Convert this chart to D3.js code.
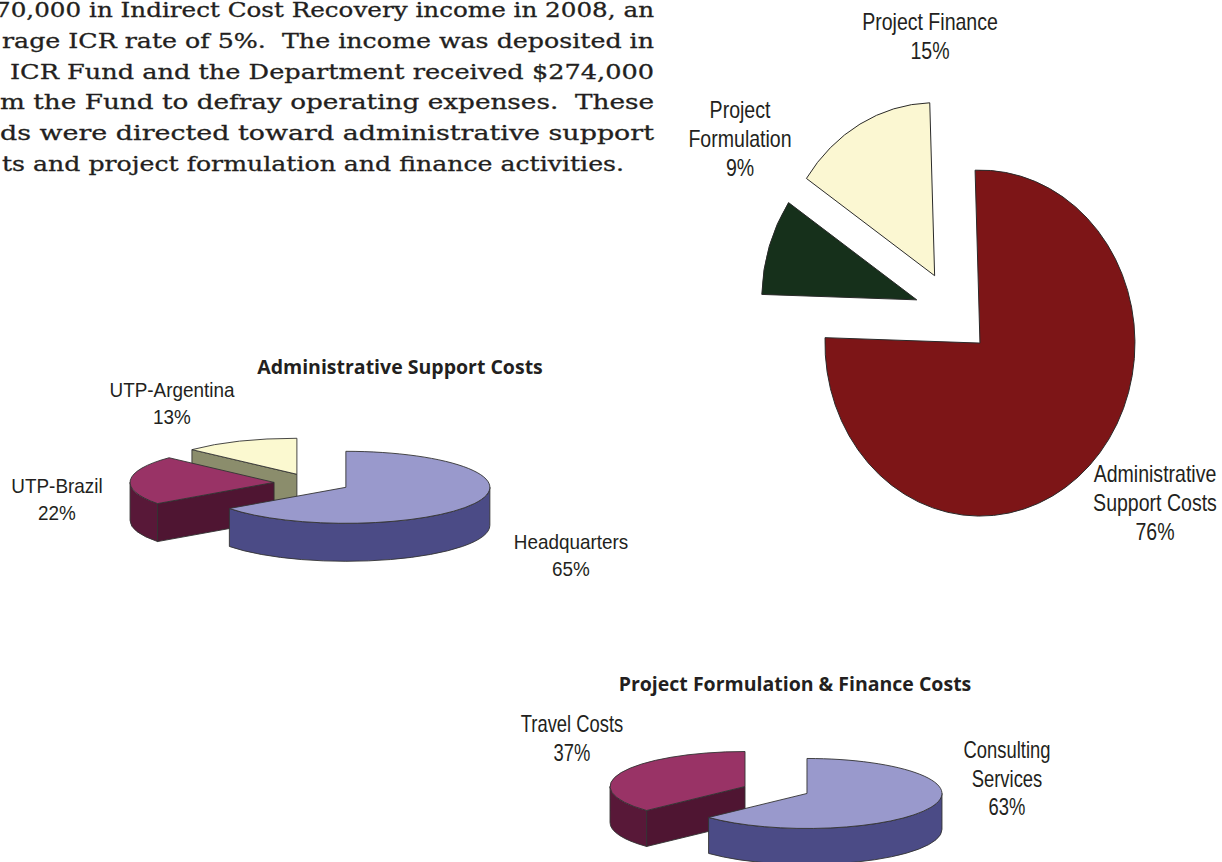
<!DOCTYPE html>
<html>
<head>
<meta charset="utf-8">
<script src="https://cdn.jsdelivr.net/npm/d3@7"></script>
<style>
  body { margin: 0; background: #fff; }
  svg { display: block; }
</style>
</head>
<body>
<svg id="chart"></svg>
<script>
const width = 1222;
const height = 862;

// ---- data ----
const paragraphLines = [
  "70,000 in Indirect Cost Recovery income in 2008, an",
  "rage ICR rate of 5%.  The income was deposited in",
  "ICR Fund and the Department received $274,000",
  "m the Fund to defray operating expenses.  These",
  "ds were directed toward administrative support",
  "ts and project formulation and finance activities."
];

const mainCategories = ["Administrative Support Costs", "Project Formulation", "Project Finance"];
const mainValues = [76, 9, 15];

const adminTitle = "Administrative Support Costs";
const adminCategories = ["Headquarters", "UTP-Brazil", "UTP-Argentina"];
const adminValues = [65, 22, 13];

const pfTitle = "Project Formulation & Finance Costs";
const pfCategories = ["Consulting Services", "Travel Costs"];
const pfValues = [63, 37];

// ---- layout ----
const svg = d3.select("#chart")
  .attr("width", width)
  .attr("height", height);

svg.append("rect").attr("width", width).attr("height", height).attr("fill", "#fff");

// paragraph (cropped on the left, justified on the right)
const paraStart = [-5, 2, 10, 0, 0, 2];
const paraEnd = [654, 654, 654, 654, 654, 624];
svg.append("g")
  .selectAll("text")
  .data(paragraphLines)
  .join("text")
  .attr("x", (d, i) => paraStart[i])
  .attr("y", (d, i) => 17 + i * 30.8)
  .attr("textLength", (d, i) => paraEnd[i] - paraStart[i])
  .attr("lengthAdjust", "spacingAndGlyphs")
  .style("white-space", "pre")
  .attr("font-family", "'DejaVu Serif', serif")
  .attr("font-size", 20)
  .attr("fill", "#231f20")
  .attr("stroke", "#231f20")
  .attr("stroke-width", 0.3)
  .text(d => d);

// multi-line label helper (text is a little condensed, like the source)
function addLabel(x, y, lines, size, sx, lh) {
  const g = svg.append("g");
  lines.forEach((t, k) => {
    g.append("text")
      .attr("transform", `translate(${x},${y + k * lh}) scale(${sx},1)`)
      .attr("text-anchor", "middle")
      .attr("font-family", "'Liberation Sans', Arial, sans-serif")
      .attr("font-size", size)
      .attr("fill", "#231f20")
      .text(t);
  });
}

const pct = v => `${v}%`;

// ---- main exploded pie ----
const mainColors = ["#7d1517", "#16301b", "#fbf7d2"];
const mainR = 173;
const mainSx = 155 / 173;
const mainExplode = 0.246;
const mainStart = -Math.PI / 100;
const mainArcs = d3.pie().sort(null).value(d => d)
  .startAngle(mainStart).endAngle(mainStart + 2 * Math.PI)(mainValues);
const mainArc = d3.arc().innerRadius(0).outerRadius(mainR);

svg.append("g")
  .attr("transform", `translate(953,313) scale(${mainSx},1)`)
  .selectAll("path")
  .data(mainArcs)
  .join("path")
  .attr("transform", d => {
    const m = (d.startAngle + d.endAngle) / 2;
    return `translate(${Math.sin(m) * mainR * mainExplode},${-Math.cos(m) * mainR * mainExplode})`;
  })
  .attr("d", mainArc)
  .attr("fill", (d, i) => mainColors[i])
  .attr("stroke", "#2a2a2a")
  .attr("stroke-width", 1)
  .attr("vector-effect", "non-scaling-stroke");

const mainLabelPos = [
  { x: 1155, y: 482, lines: ["Administrative", "Support Costs"] },
  { x: 740, y: 118, lines: ["Project", "Formulation"] },
  { x: 930, y: 30, lines: ["Project Finance"] }
];
mainLabelPos.forEach((p, i) => addLabel(p.x, p.y, p.lines.concat(pct(mainValues[i])), 23, 0.85, 29));

// ---- 3D exploded pie helper ----
function pie3d(cx, cy, rx, ry, depth, explode, values, tops, sides, faces) {
  const arcs = d3.pie().sort(null).value(d => d)(values);
  const g = svg.append("g")
    .attr("stroke", "#333")
    .attr("stroke-width", 0.9)
    .attr("stroke-linejoin", "round");

  const slices = arcs.map((d, i) => {
    const m = (d.startAngle + d.endAngle) / 2;
    return {
      d, i,
      ox: cx + explode * rx * Math.sin(m),
      oy: cy - explode * ry * Math.cos(m),
      key: -Math.cos(m)
    };
  }).sort((a, b) => a.key - b.key);

  slices.forEach(s => {
    const { d, i, ox, oy } = s;
    const pt = (a, dz) => [ox + rx * Math.sin(a), oy - ry * Math.cos(a) + dz];
    const a0 = d.startAngle, a1 = d.endAngle;

    // cut faces that turn toward the viewer
    [[a0, Math.sin(a0) < -1e-6], [a1, Math.sin(a1) > 1e-6]].forEach(([a, vis]) => {
      if (!vis) return;
      const o = pt(a, 0), ob = pt(a, depth);
      g.append("path")
        .attr("d", `M${ox},${oy}L${o[0]},${o[1]}L${ob[0]},${ob[1]}L${ox},${oy + depth}Z`)
        .attr("fill", faces[i]);
    });

    // outer wall, front half only
    const s0 = Math.max(a0, Math.PI / 2);
    const s1 = Math.min(a1, 3 * Math.PI / 2);
    if (s1 > s0) {
      const t0 = pt(s0, 0), t1 = pt(s1, 0), b1 = pt(s1, depth), b0 = pt(s0, depth);
      g.append("path")
        .attr("d", `M${t0[0]},${t0[1]}A${rx},${ry} 0 0 1 ${t1[0]},${t1[1]}` +
                   `L${b1[0]},${b1[1]}A${rx},${ry} 0 0 0 ${b0[0]},${b0[1]}Z`)
        .attr("fill", sides[i]);
    }

    // top face
    const p0 = pt(a0, 0), p1 = pt(a1, 0);
    const large = (a1 - a0) > Math.PI ? 1 : 0;
    g.append("path")
      .attr("d", `M${ox},${oy}L${p0[0]},${p0[1]}A${rx},${ry} 0 ${large} 1 ${p1[0]},${p1[1]}Z`)
      .attr("fill", tops[i]);
  });
}

function addTitle(x, y, t) {
  svg.append("text")
    .attr("x", x).attr("y", y)
    .attr("text-anchor", "middle")
    .attr("font-family", "'Open Sans', sans-serif")
    .attr("font-weight", "bold")
    .attr("font-size", 19.5)
    .attr("fill", "#231f20")
    .text(t);
}

// ---- Administrative Support Costs ----
addTitle(400, 374, adminTitle);
pie3d(312, 483, 144, 36, 38, 0.264, adminValues,
  ["#9999cc", "#993366", "#fbf9d0"],
  ["#4b4b86", "#581838", "#8b8d6c"],
  ["#45457a", "#4f1532", "#8b8d6c"]);

const adminLabelPos = [
  { x: 571, y: 549, lines: ["Headquarters"] },
  { x: 57, y: 493, lines: ["UTP-Brazil"] },
  { x: 172, y: 397, lines: ["UTP-Argentina"] }
];
adminLabelPos.forEach((p, i) => addLabel(p.x, p.y, p.lines.concat(pct(adminValues[i])), 21, 0.9, 27));

// ---- Project Formulation & Finance Costs ----
addTitle(795, 691, pfTitle);
pie3d(776, 790, 135, 35, 36, 0.25, pfValues,
  ["#9999cc", "#993366"],
  ["#4b4b86", "#581838"],
  ["#45457a", "#4f1532"]);

const pfLabelPos = [
  { x: 1007, y: 758, lines: ["Consulting", "Services"] },
  { x: 572, y: 732, lines: ["Travel Costs"] }
];
pfLabelPos.forEach((p, i) => addLabel(p.x, p.y, p.lines.concat(pct(pfValues[i])), 23, 0.8, 28.5));
</script>
</body>
</html>
